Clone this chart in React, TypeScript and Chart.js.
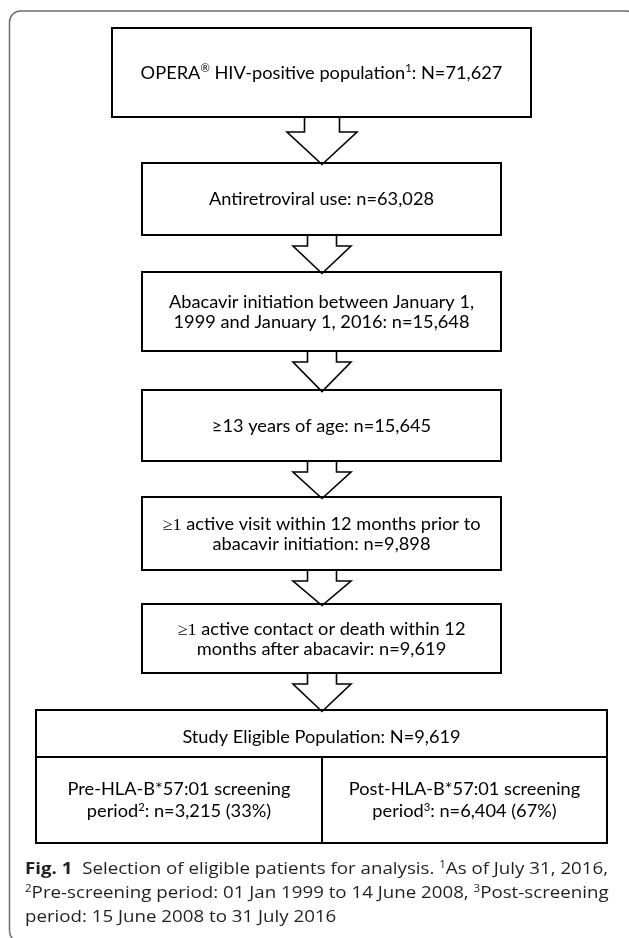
import React, { useEffect, useRef } from "react";
import { Chart, registerables } from "chart.js";

Chart.register(...registerables);

const PAGE_W = 629;
const PAGE_H = 938;

// ---------- DATA (text content of the flow diagram) ----------
// markup: ^x = superscript, {..} = math (serif) glyphs, **..** = bold
const stageLines: string[][] = [
  ["OPERA^® HIV-positive population^1: N=71,627"],
  ["Antiretroviral use: n=63,028"],
  ["Abacavir initiation between January 1,", "1999 and January 1, 2016: n=15,648"],
  ["≥13 years of age: n=15,645"],
  ["{≥1} active visit within 12 months prior to", "abacavir initiation: n=9,898"],
  ["{≥1} active contact or death within 12", "months after abacavir: n=9,619"],
];
const eligibleTitle = "Study Eligible Population: N=9,619";
const periodLines: string[][] = [
  ["Pre-HLA-B*57:01 screening", "period^2: n=3,215 (33%)"],
  ["Post-HLA-B*57:01 screening", "period^3: n=6,404 (67%)"],
];
const captionLines: string[] = [
  "**Fig. 1**  Selection of eligible patients for analysis. ^1As of July 31, 2016,",
  "^2Pre-screening period: 01 Jan 1999 to 14 June 2008, ^3Post-screening",
  "period: 15 June 2008 to 31 July 2016",
];

// ---------- LAYOUT (positions in page units) ----------
const stageBoxes = [
  { x0: 112, x1: 531, y0: 28, y1: 117 },
  { x0: 142, x1: 501, y0: 163, y1: 235 },
  { x0: 142, x1: 501, y0: 272, y1: 351 },
  { x0: 142, x1: 501, y0: 390, y1: 461 },
  { x0: 142, x1: 501, y0: 497, y1: 570 },
  { x0: 142, x1: 501, y0: 604, y1: 673 },
];
const eligibleBox = { x0: 36, x1: 607, y0: 710, y1: 843, split: 757, mid: 322 };
const arrowCx = 322;
const arrowShapes = [
  { shaft: 35, head: 70, neck: 15 },
  { shaft: 29, head: 58, neck: 11 },
];
const frame = { x0: 9.5, y0: 11, x1: 637, y1: 942, r: 11 };
const captionX = 25;
const captionY = [868, 892, 916];
const captionWidth = 583;
const boxRefWidth = 225; // width of "Antiretroviral use" line
const BOX_FONT = "Lato";
const CAP_FONT = "'Open Sans'";
const BOX_SIZE = 17;
const CAP_SIZE = 16.5;

type Seg = { t: string; kind: "n" | "sup" | "math" | "bold" };

function parse(s: string): Seg[] {
  const out: Seg[] = [];
  const re = /\*\*([^*]+)\*\*|\{([^}]+)\}|\^([\d®]+)/g;
  let last = 0;
  let m: RegExpExecArray | null;
  while ((m = re.exec(s))) {
    if (m.index > last) out.push({ t: s.slice(last, m.index), kind: "n" });
    if (m[1]) out.push({ t: m[1], kind: "bold" });
    else if (m[2]) out.push({ t: m[2], kind: "math" });
    else out.push({ t: m[3], kind: "sup" });
    last = re.lastIndex;
  }
  if (last < s.length) out.push({ t: s.slice(last), kind: "n" });
  return out;
}

function fontFor(kind: Seg["kind"], size: number, family: string) {
  if (kind === "bold") return `bold ${size}px ${family}`;
  if (kind === "sup") return `${(size * 0.62).toFixed(2)}px ${family}`;
  if (kind === "math") return `${(size * 1.0).toFixed(2)}px 'Liberation Serif'`;
  return `${size}px ${family}`;
}

function measureRich(ctx: CanvasRenderingContext2D, s: string, size: number, family: string) {
  const segs = parse(s);
  let w = 0;
  const ws = segs.map((sg) => {
    ctx.font = fontFor(sg.kind, size, family);
    const v = ctx.measureText(sg.t).width;
    w += v;
    return v;
  });
  return { segs, ws, w };
}

function drawRich(
  ctx: CanvasRenderingContext2D,
  s: string,
  x: number,
  cy: number,
  size: number,
  family: string,
  align: "center" | "left",
  hScale: number,
  color: string
) {
  const { segs, ws, w } = measureRich(ctx, s, size, family);
  const total = w * hScale;
  const start = align === "center" ? x - total / 2 : x;
  const baseline = cy + size * 0.36;
  ctx.save();
  ctx.fillStyle = color;
  ctx.textBaseline = "alphabetic";
  ctx.textAlign = "left";
  ctx.translate(start, baseline);
  ctx.scale(hScale, 1);
  let cx = 0;
  segs.forEach((sg, i) => {
    ctx.font = fontFor(sg.kind, size, family);
    const dy = sg.kind === "sup" ? -size * 0.38 : 0;
    ctx.fillText(sg.t, cx, dy);
    cx += ws[i];
  });
  ctx.restore();
}

const whiteBg = {
  id: "whiteBg",
  beforeDraw(chart: any) {
    const { ctx, width, height } = chart;
    ctx.save();
    ctx.fillStyle = "#ffffff";
    ctx.fillRect(0, 0, width, height);
    ctx.restore();
  },
};

const flowPlugin = {
  id: "flow",
  afterDraw(chart: any) {
    const ctx: CanvasRenderingContext2D = chart.ctx;
    const xs = chart.scales.x;
    const ys = chart.scales.y;
    const px = (v: number) => xs.getPixelForValue(v);
    const py = (v: number) => ys.getPixelForValue(v);

    // outer rounded frame
    ctx.save();
    ctx.strokeStyle = "#6e6e6e";
    ctx.lineWidth = 1.5;
    ctx.beginPath();
    const f = frame;
    ctx.moveTo(px(f.x0 + f.r), py(f.y0));
    ctx.lineTo(px(f.x1 - f.r), py(f.y0));
    ctx.arcTo(px(f.x1), py(f.y0), px(f.x1), py(f.y0 + f.r), f.r);
    ctx.lineTo(px(f.x1), py(f.y1 - f.r));
    ctx.arcTo(px(f.x1), py(f.y1), px(f.x1 - f.r), py(f.y1), f.r);
    ctx.lineTo(px(f.x0 + f.r), py(f.y1));
    ctx.arcTo(px(f.x0), py(f.y1), px(f.x0), py(f.y1 - f.r), f.r);
    ctx.lineTo(px(f.x0), py(f.y0 + f.r));
    ctx.arcTo(px(f.x0), py(f.y0), px(f.x0 + f.r), py(f.y0), f.r);
    ctx.closePath();
    ctx.stroke();
    ctx.restore();

    // text scale fit
    const ref = measureRich(ctx, stageLines[1][0], BOX_SIZE, BOX_FONT).w;
    const boxH = boxRefWidth / ref;
    const capRef = measureRich(ctx, captionLines[0], CAP_SIZE, CAP_FONT).w;
    const capH = captionWidth / capRef;

    // arrows
    ctx.save();
    ctx.strokeStyle = "#000";
    ctx.fillStyle = "#fff";
    ctx.lineWidth = 1.6;
    ctx.lineJoin = "miter";
    for (let i = 0; i < stageBoxes.length; i++) {
      const top = stageBoxes[i].y1;
      const bottom = i + 1 < stageBoxes.length ? stageBoxes[i + 1].y0 : eligibleBox.y0;
      const sh = i === 0 ? arrowShapes[0] : arrowShapes[1];
      const neckY = top + sh.neck;
      const tipY = bottom + 1.5;
      ctx.beginPath();
      ctx.moveTo(px(arrowCx - sh.shaft / 2), py(top));
      ctx.lineTo(px(arrowCx - sh.shaft / 2), py(neckY));
      ctx.lineTo(px(arrowCx - sh.head / 2), py(neckY));
      ctx.lineTo(px(arrowCx), py(tipY));
      ctx.lineTo(px(arrowCx + sh.head / 2), py(neckY));
      ctx.lineTo(px(arrowCx + sh.shaft / 2), py(neckY));
      ctx.lineTo(px(arrowCx + sh.shaft / 2), py(top));
      ctx.fill();
      ctx.stroke();
    }
    ctx.restore();

    // stage boxes
    ctx.save();
    ctx.strokeStyle = "#000";
    ctx.lineWidth = 2;
    stageBoxes.forEach((b, i) => {
      ctx.strokeRect(px(b.x0), py(b.y0), px(b.x1) - px(b.x0), py(b.y1) - py(b.y0));
      const lines = stageLines[i];
      const cy = (b.y0 + b.y1) / 2;
      const lh = 20;
      lines.forEach((ln, j) => {
        const ly = cy + (j - (lines.length - 1) / 2) * lh;
        drawRich(ctx, ln, px((b.x0 + b.x1) / 2), py(ly), BOX_SIZE, BOX_FONT, "center", boxH, "#000");
      });
    });

    // eligible box
    const e = eligibleBox;
    ctx.strokeRect(px(e.x0), py(e.y0), px(e.x1) - px(e.x0), py(e.y1) - py(e.y0));
    ctx.beginPath();
    ctx.moveTo(px(e.x0), py(e.split));
    ctx.lineTo(px(e.x1), py(e.split));
    ctx.moveTo(px(e.mid), py(e.split));
    ctx.lineTo(px(e.mid), py(e.y1));
    ctx.stroke();
    drawRich(ctx, eligibleTitle, px((e.x0 + e.x1) / 2), py((e.y0 + e.split) / 2 + 3), BOX_SIZE, BOX_FONT, "center", boxH, "#000");
    const cells = [
      [e.x0, e.mid],
      [e.mid, e.x1],
    ];
    periodLines.forEach((lines, k) => {
      const [a, b] = cells[k];
      const cy = (e.split + e.y1) / 2;
      const lh = 22;
      lines.forEach((ln, j) => {
        const ly = cy + (j - (lines.length - 1) / 2) * lh;
        drawRich(ctx, ln, px((a + b) / 2), py(ly), BOX_SIZE, BOX_FONT, "center", boxH, "#000");
      });
    });
    ctx.restore();

    // caption
    captionLines.forEach((ln, i) => {
      drawRich(ctx, ln, px(captionX), py(captionY[i]), CAP_SIZE, CAP_FONT, "left", capH, "#231f20");
    });
  },
};

export default function App() {
  const ref = useRef<HTMLCanvasElement | null>(null);
  useEffect(() => {
    if (!ref.current) return;
    const chart = new Chart(ref.current, {
      type: "scatter",
      data: { datasets: [{ data: [], pointRadius: 0 }] },
      options: {
        animation: false,
        responsive: false,
        devicePixelRatio: 1,
        events: [],
        layout: { padding: 0 },
        plugins: { legend: { display: false }, tooltip: { enabled: false } },
        scales: {
          x: { type: "linear", min: 0, max: PAGE_W, display: false },
          y: { type: "linear", min: 0, max: PAGE_H, reverse: true, display: false },
        },
      },
      plugins: [whiteBg, flowPlugin],
    } as any);
    let cancelled = false;
    (document as any).fonts?.ready?.then(() => {
      if (!cancelled) chart.draw();
    });
    return () => {
      cancelled = true;
      chart.destroy();
    };
  }, []);
  return (
    <div style={{ position: "absolute", left: 0, top: 0, width: PAGE_W, height: PAGE_H, background: "#fff" }}>
      <canvas ref={ref} width={PAGE_W} height={PAGE_H} style={{ display: "block" }} />
    </div>
  );
}
